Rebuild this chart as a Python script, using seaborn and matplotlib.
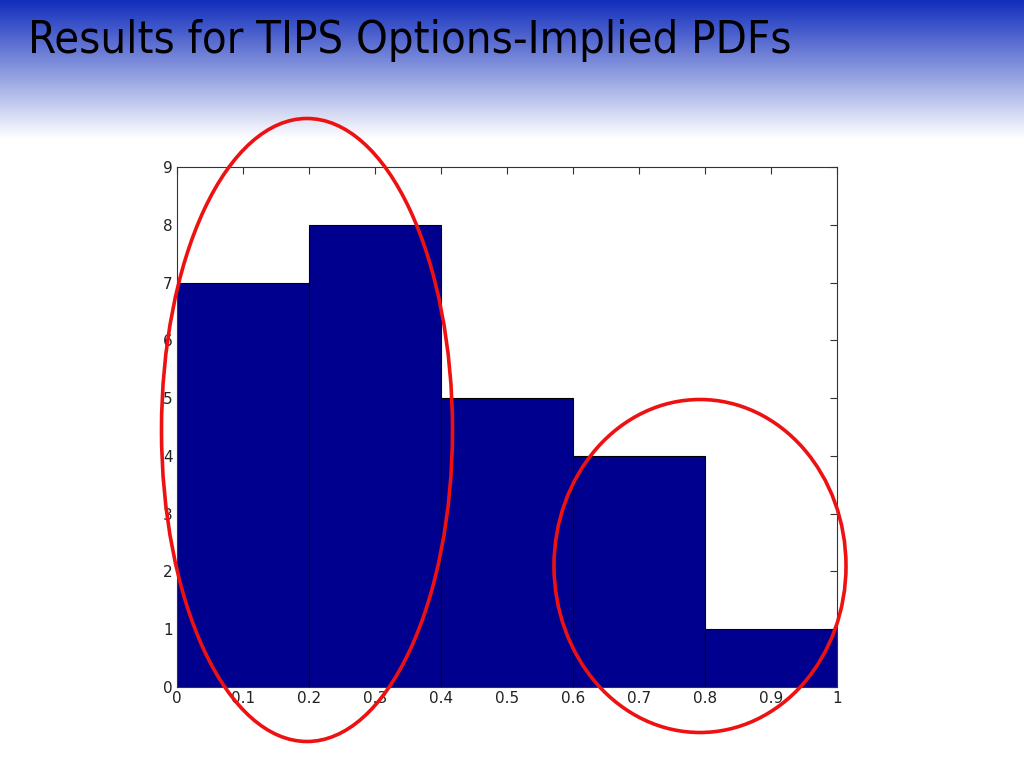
import numpy as np
import matplotlib
matplotlib.use("Agg")
import matplotlib.pyplot as plt
from matplotlib.patches import Ellipse
import seaborn as sns

# histogram data
bin_edges = [0.0, 0.2, 0.4, 0.6, 0.8, 1.0]
bin_centers = [0.1, 0.3, 0.5, 0.7, 0.9]
counts = [7, 8, 5, 4, 1]
x_ticks = [0, 0.1, 0.2, 0.3, 0.4, 0.5, 0.6, 0.7, 0.8, 0.9, 1]
x_tick_labels = ["0", "0.1", "0.2", "0.3", "0.4", "0.5", "0.6", "0.7", "0.8", "0.9", "1"]
y_ticks = [0, 1, 2, 3, 4, 5, 6, 7, 8, 9]
title = "Results for TIPS Options-Implied PDFs"

sns.set_style("white")
plt.rcParams['font.family'] = ['DejaVu Sans']

fig = plt.figure(figsize=(10.24, 7.68), dpi=100)

# slide header gradient (dark blue fading to white)
bg = fig.add_axes([0, 0, 1, 1], zorder=0)
bg.axis("off")
h = 768
rows = np.linspace(0, 1, h)
fade = np.clip(rows / 0.18, 0, 1)
top = np.array([0.07, 0.18, 0.74])
img = top[None, :] * (1 - fade[:, None]) + np.ones(3)[None, :] * fade[:, None]
img = np.repeat(img[:, None, :], 4, axis=1)
bg.imshow(img, aspect="auto", extent=[0, 1, 0, 1])
bg.set_xlim(0, 1)
bg.set_ylim(0, 1)

fig.text(28 / 1024, 1 - 41 / 768, title, fontsize=32.5, color="black",
         va="center", ha="left", fontstretch="condensed")

ax = fig.add_axes([177 / 1024, 1 - 687 / 768, 660 / 1024, 520 / 768], zorder=1)
sns.histplot(x=bin_centers, weights=counts, bins=bin_edges, ax=ax,
             color="#00008f", edgecolor="black", linewidth=0.8, alpha=1)
ax.set_xlim(0, 1)
ax.set_ylim(0, 9)
ax.set_xticks(x_ticks)
ax.set_xticklabels(x_tick_labels)
ax.set_yticks(y_ticks)
ax.set_xlabel("")
ax.set_ylabel("")
ax.tick_params(direction="in", length=5, width=0.8, top=True, right=True,
               labelsize=11, colors="#333333", pad=3)
ax.tick_params(labelcolor="#222222")
for s in ax.spines.values():
    s.set_visible(True)
    s.set_color("#333333")
    s.set_linewidth(0.8)

# red highlight ellipses drawn over the chart
for cx, cy, w, hh in [(307, 430, 291, 623), (700, 566, 292, 333)]:
    e = Ellipse((cx / 1024, 1 - cy / 768), w / 1024, hh / 768,
                transform=fig.transFigure, fill=False, edgecolor="#ee1111",
                linewidth=2.6, zorder=5)
    fig.patches.append(e)

fig.savefig("out.png", dpi=100)
